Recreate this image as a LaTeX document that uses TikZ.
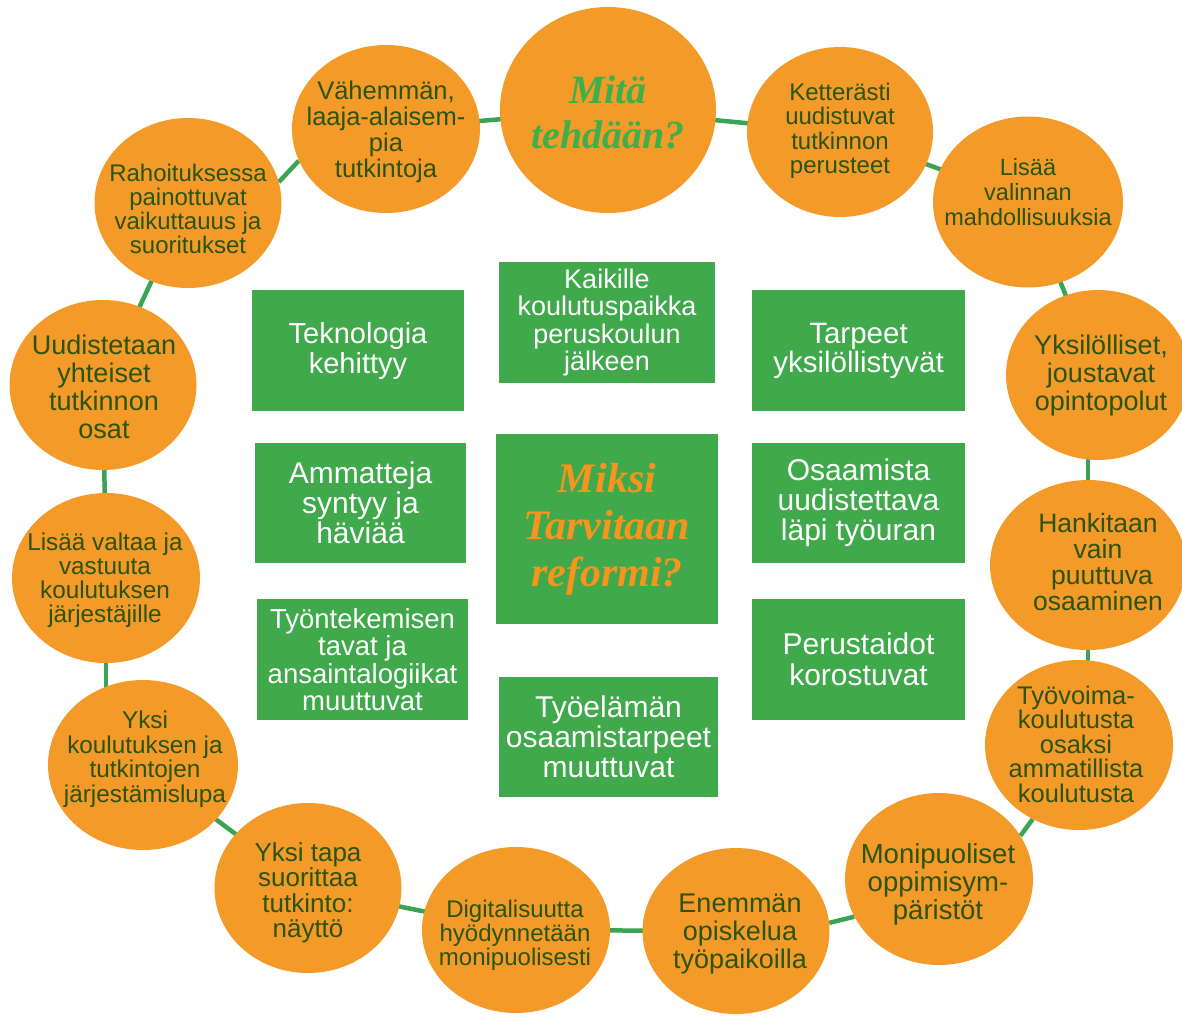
\documentclass[tikz,border=0pt]{standalone}
\usepackage{fontspec}
\setmainfont{Liberation Sans}
\newfontfamily\headfont{Liberation Serif}
\usetikzlibrary{shapes.geometric,backgrounds}
\definecolor{orng}{HTML}{F39A28}
\definecolor{ctxt}{HTML}{2B5410}
\definecolor{boxgreen}{HTML}{3FA94B}
\definecolor{headgreen}{HTML}{3DB04B}
\definecolor{headorange}{HTML}{F7941E}
\definecolor{lnk}{HTML}{3BA454}
\newcommand\fsz[2]{\fontsize{#1}{#2}\selectfont}
\tikzset{
  circ/.style={ellipse, fill=orng, draw=none, inner sep=0pt},
  ctext/.style={text=ctxt, align=center, inner sep=0pt},
  gbox/.style={rectangle, fill=boxgreen, text=white, align=center, inner sep=2pt},
  link/.style={draw=lnk, line width=4.5pt},
}
\begin{document}
\begin{tikzpicture}[x=1pt,y=-1pt]
\useasboundingbox (0,0) rectangle (1182,1015);
\clip (0,0) rectangle (1182,1015);
% ---- circles ----
\node[circ, minimum width=216pt, minimum height=206pt] (mita) at (608,110) {};
\node[circ, minimum width=188pt, minimum height=168pt] (vah) at (386,129) {};
\node[circ, minimum width=186pt, minimum height=170pt] (ket) at (840,132) {};
\node[circ, minimum width=187pt, minimum height=170pt] (rah) at (188,203) {};
\node[circ, minimum width=190pt, minimum height=171pt] (lval) at (1028,202) {};
\node[circ, minimum width=187pt, minimum height=170pt] (uud) at (103,385) {};
\node[circ, minimum width=184pt, minimum height=170pt] (yks) at (1098,375) {};
\node[circ, minimum width=188pt, minimum height=170pt] (lvalt) at (106,578) {};
\node[circ, minimum width=196pt, minimum height=170pt] (hank) at (1088,565) {};
\node[circ, minimum width=190pt, minimum height=170pt] (ykk) at (143,765) {};
\node[circ, minimum width=188pt, minimum height=170pt] (tyov) at (1079,745) {};
\node[circ, minimum width=188pt, minimum height=172pt] (mon) at (939,879) {};
\node[circ, minimum width=187pt, minimum height=166pt] (ene) at (736,931) {};
\node[circ, minimum width=188pt, minimum height=166pt] (dig) at (516,930) {};
\node[circ, minimum width=187pt, minimum height=170pt] (ytapa) at (308,888) {};
% ---- circle texts ----
\node[ctext, text=headgreen, font=\headfont\bfseries\itshape\fsz{40}{45}] (mita-t) at (608,112) {Mitä\\tehdään?};
\node[ctext, font=\fsz{25.5}{26}] (vah-t) at (386,132) {Vähemmän,\\laaja-alaisem-\\pia\\tutkintoja};
\node[ctext, font=\fsz{24}{24.5}] (ket-t) at (840,131) {Ketterästi\\uudistuvat\\tutkinnon\\perusteet};
\node[ctext, font=\fsz{23.5}{25}] (lval-t) at (1028,192) {Lisää\\valinnan\\mahdollisuuksia};
\node[ctext, font=\fsz{24}{24}] (rah-t) at (188,209) {Rahoituksessa\\painottuvat\\vaikuttauus ja\\suoritukset};
\node[ctext, font=\fsz{27}{28}] (yks-t) at (1101,376) {Yksilölliset,\\joustavat\\opintopolut};
\node[ctext, font=\fsz{27}{28}] (uud-t) at (104,387) {Uudistetaan\\yhteiset\\tutkinnon\\osat};
\node[ctext, font=\fsz{24.3}{24}] (lvalt-t) at (105,580) {Lisää valtaa ja\\vastuuta\\koulutuksen\\järjestäjille};
\node[ctext, font=\fsz{26.5}{26}] (hank-t) at (1098,562) {Hankitaan\\vain\\\hspace*{8pt}puuttuva\\osaaminen};
\node[ctext, font=\fsz{25.5}{24.5}] (tyov-t) at (1076,744) {Työvoima-\\koulutusta\\osaksi\\ammatillista\\koulutusta};
\node[ctext, font=\fsz{24.3}{24.5}] (ykk-t) at (145,759) {Yksi\\koulutuksen ja\\tutkintojen\\järjestämislupa};
\node[ctext, font=\fsz{27.5}{28}] (mon-t) at (938,884) {Monipuoliset\\oppimisym-\\päristöt};
\node[ctext, font=\fsz{27}{28}] (ene-t) at (740,934) {Enemmän\\opiskelua\\työpaikoilla};
\node[ctext, font=\fsz{24}{24}] (dig-t) at (515,935) {Digitalisuutta\\hyödynnetään\\monipuolisesti};
\node[ctext, font=\fsz{26}{25.5}] (ytapa-t) at (308,893) {Yksi tapa\\suorittaa\\tutkinto:\\näyttö};
% ---- green boxes ----
\node[gbox, minimum width=212pt, minimum height=121pt, font=\fsz{29}{30}] (tek) at (358,350.5) {Teknologia\\kehittyy};
\node[gbox, minimum width=216pt, minimum height=121pt, font=\fsz{27}{27.5}] (kai) at (607,322.5) {Kaikille\\koulutuspaikka\\peruskoulun\\jälkeen};
\node[gbox, minimum width=213pt, minimum height=121pt, font=\fsz{29.5}{29}] (tar) at (858.5,350.5) {Tarpeet\\yksilöllistyvät};
\node[gbox, minimum width=211pt, minimum height=120pt, font=\fsz{30}{30}] (amm) at (360.5,503) {Ammatteja\\syntyy ja\\häviää};
\node[gbox, minimum width=222pt, minimum height=190pt, text=headorange, font=\headfont\bfseries\itshape\fsz{42}{47}] (miksi) at (607,529) {Miksi\\Tarvitaan\\reformi?};
\node[gbox, minimum width=213pt, minimum height=120pt, font=\fsz{30}{30}] (osa) at (858.5,503) {Osaamista\\uudistettava\\läpi työuran};
\node[gbox, minimum width=211pt, minimum height=121pt, font=\fsz{27.5}{27.5}] (tyon) at (362.5,659.5) {Työntekemisen\\tavat ja\\ansaintalogiikat\\muuttuvat};
\node[gbox, minimum width=213pt, minimum height=121pt, font=\fsz{30}{31}] (per) at (858.5,659.5) {Perustaidot\\korostuvat};
\node[gbox, minimum width=219pt, minimum height=120pt, font=\fsz{30}{30}] (tyoe) at (608.5,737) {Työelämän\\osaamistarpeet\\muuttuvat};
% ---- connectors (behind) ----
\begin{pgfonlayer}{background}
\fill[white] (0,0) rectangle (1182,1015);
\draw[link] (vah.center) -- (mita.center);
\draw[link] (mita.center) -- (ket.center);
\draw[link] (ket.center) -- (lval.center);
\draw[link] (lval.center) -- (yks.center);
\draw[link] (hank.center) -- (hank.center |- yks.center);
\draw[link] (hank.center) -- (hank.center |- tyov.center);
\draw[link] (tyov.238) -- (mon.28);
\draw[link] (mon.204) -- (ene.5);
\draw[link] (ene.center) -- (dig.center);
\draw[link] (dig.center) -- (ytapa.center);
\draw[link] (ytapa.center) -- (ykk.center);
\draw[link] (lvalt.center) -- (lvalt.center |- ykk.center);
\draw[link] (lvalt.center) -- (uud.center);
\draw[link] (uud.center) -- (rah.center);
\draw[link] (rah.13) -- (vah.200);
\end{pgfonlayer}
\end{tikzpicture}
\end{document}
